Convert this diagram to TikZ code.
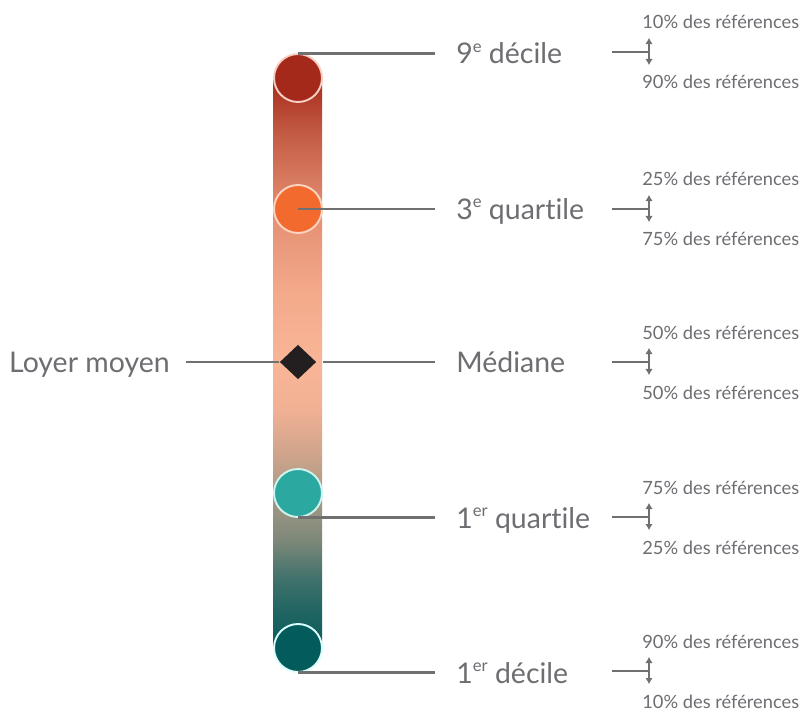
\documentclass[tikz,border=0pt]{standalone}
\usepackage{fontspec}
\setmainfont{Lato}[Ligatures=NoCommon]
\usepackage{xcolor}
\definecolor{decRed}{HTML}{A5291A}
\definecolor{decRedRing}{HTML}{F8CFC4}
\definecolor{quaOrange}{HTML}{F26A2D}
\definecolor{quaOrangeRing}{HTML}{FBD3C2}
\definecolor{quaTeal}{HTML}{2BA8A0}
\definecolor{quaTealRing}{HTML}{CFF3EF}
\definecolor{decTeal}{HTML}{035B5B}
\definecolor{decTealRing}{HTML}{DCFEFE}
\definecolor{medBlack}{HTML}{231F20}
\definecolor{softGray}{HTML}{6D6D72}
\definecolor{lineGray}{HTML}{707070}
% gradient of the bar, bottom to top
\definecolor{barA}{HTML}{0B5B5A}
\definecolor{barB}{HTML}{1E6462}
\definecolor{barC}{HTML}{3F716C}
\definecolor{barD}{HTML}{7E8879}
\definecolor{barE}{HTML}{A39985}
\definecolor{barF}{HTML}{CFA48B}
\definecolor{barG}{HTML}{F2B194}
\definecolor{barH}{HTML}{F9B597}
\definecolor{barI}{HTML}{F3AA8B}
\definecolor{barJ}{HTML}{E48D70}
\definecolor{barK}{HTML}{C35C44}
\usepackage{tikz}
\usetikzlibrary{arrows.meta,shapes.geometric}
\pgfdeclareverticalshading{barShade}{100bp}{%
  color(0bp)=(barA); color(25bp)=(barA); color(28bp)=(barB);
  color(31bp)=(barC); color(34.5bp)=(barD); color(38bp)=(barE);
  color(42bp)=(barF); color(46bp)=(barG); color(50bp)=(barH);
  color(56bp)=(barI); color(63.5bp)=(barJ); color(70bp)=(barK);
  color(75bp)=(decRed); color(100bp)=(decRed)}
\newcommand{\exposant}[1]{\raisebox{0.42em}{\fontsize{9.5}{10}\selectfont #1}}

\begin{document}
\begin{tikzpicture}[x=0.02cm, y=-0.02cm,
    every node/.style={text=softGray},
    dot/.style={circle, minimum size=0.96cm, inner sep=0pt, line width=1.1pt},
    biglabel/.style={anchor=base west, inner xsep=0.42cm, font=\fontsize{16.2}{19}\selectfont},
    smalllabel/.style={anchor=base west, inner sep=0pt, font=\fontsize{10.4}{12}\selectfont},
    link/.style={draw=lineGray, line width=1.7pt},
    span/.style={draw=lineGray, line width=1.2pt, {Latex[length=1.2mm,width=1.5mm]}-{Latex[length=1.2mm,width=1.5mm]}}]
  \useasboundingbox (0,0) rectangle (802,713);

  % Bar
  \shade[shading=barShade] (273,77) rectangle (322,648);

  % Markers on the bar
  \node[dot, fill=decRed, draw=decRedRing] (d9) at (298,78) {};
  \node[dot, fill=quaOrange, draw=quaOrangeRing] (q3) at (298,209) {};
  \node[diamond, fill=medBlack, inner sep=0pt, minimum width=0.73cm, minimum height=0.69cm] (med) at (298,362) {};
  \node[dot, fill=quaTeal, draw=quaTealRing] (q1) at (298,493) {};
  \node[dot, fill=decTeal, draw=decTealRing] (d1) at (298,648) {};

  % Labels
  \node[biglabel] (ld9) at (435,64) {9\exposant{e} décile};
  \node[biglabel] (lq3) at (435,219) {3\exposant{e} quartile};
  \node[biglabel] (lmed) at (435,372) {Médiane};
  \node[biglabel] (lq1) at (435,528) {1\exposant{er} quartile};
  \node[biglabel] (ld1) at (435,683) {1\exposant{er} décile};
  \node[biglabel, anchor=base east, inner xsep=0.32cm] (lmoy) at (186,372) {Loyer moyen};

  \draw[link] (d9.north) -- (d9.north -| ld9.west);
  \draw[link] (q3.center) -- (q3.center -| lq3.west);
  \draw[link] (med.east) ++(6,0) -- (med.east -| lmed.west);
  \draw[link] (med.west) -- (med.west -| lmoy.east);
  \draw[link] (q1.south) -- (q1.south -| lq1.west);
  \draw[link] (d1.south) -- (d1.south -| ld1.west);

  % Shares of references
  \foreach \y/\up/\down [count=\i] in {52/10/90, 209/25/75, 362/50/50, 517/75/25, 671/90/10}{
    \coordinate (s\i) at (649,\y);
    \draw[link] (612,\y) -- (s\i);
    \draw[span] ([yshift=0.28cm]s\i) -- ([yshift=-0.26cm]s\i);
    \node[smalllabel] (up\i) at (642,\y-23) {\up\% des références};
    \node[smalllabel] (down\i) at (642,\y+37) {\down\% des références};
  }
\end{tikzpicture}
\end{document}
